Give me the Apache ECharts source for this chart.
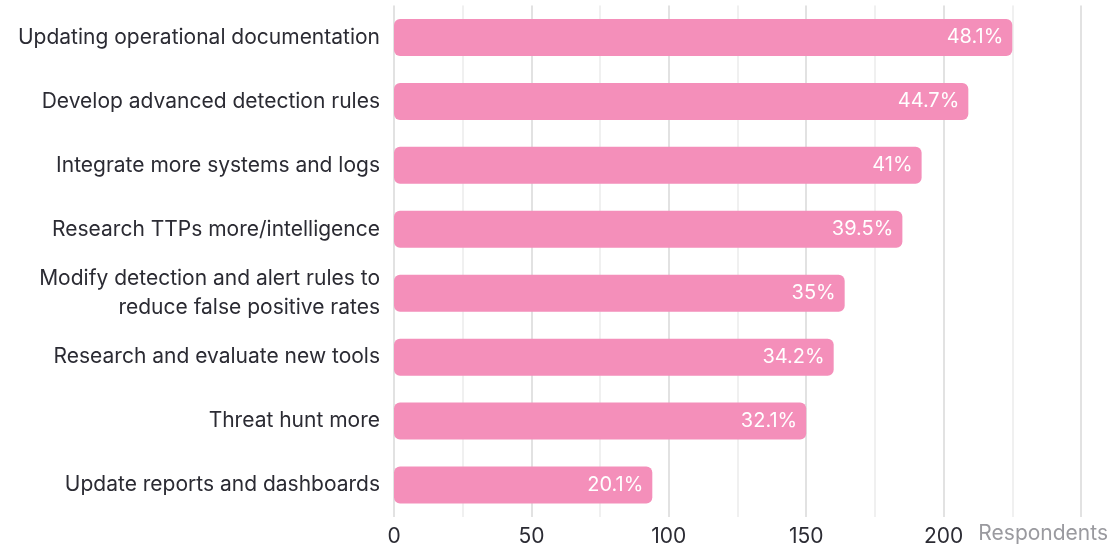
<!DOCTYPE html>
<html>
<head>
<meta charset="utf-8">
<script src="https://cdn.jsdelivr.net/npm/echarts@6/dist/echarts.min.js"></script>
<style>
  html, body { margin: 0; padding: 0; background: #ffffff; }
  #chart { width: 1112px; height: 547px; }
</style>
</head>
<body>
<div id="chart"></div>
<script>
// Activities, top to bottom
const categories = [
  'Updating operational documentation',
  'Develop advanced detection rules',
  'Integrate more systems and logs',
  'Research TTPs more/intelligence',
  'Modify detection and alert rules to\nreduce false positive rates',
  'Research and evaluate new tools',
  'Threat hunt more',
  'Update reports and dashboards'
];
// Number of respondents per activity
const respondents = [225, 209, 192, 185, 164, 160, 150, 94];
// Share of respondents shown on each bar
const shareLabels = ['48.1%', '44.7%', '41%', '39.5%', '35%', '34.2%', '32.1%', '20.1%'];
// Axis ticks
const tickValues = [0, 50, 100, 150, 200];

const FONT = 'Inter, "Noto Sans", sans-serif';
const chart = echarts.init(document.getElementById('chart'));

chart.setOption({
  animation: false,
  grid: { left: 394, right: 31, top: 5.5, height: 512, containLabel: false },
  xAxis: {
    type: 'value',
    min: 0,
    max: 250,
    interval: 50,
    name: 'Respondents',
    nameLocation: 'end',
    nameGap: 27,
    nameTextStyle: {
      color: '#9a9a9f', fontSize: 21, fontFamily: FONT,
      align: 'right', verticalAlign: 'top', padding: [6, 0, 0, 0]
    },
    axisLine: { show: false },
    axisTick: { show: false },
    axisLabel: {
      color: '#2b2b33', fontSize: 21, fontFamily: FONT, margin: 9,
      formatter: v => (tickValues.indexOf(v) >= 0 ? String(v) : '')
    },
    splitLine: { show: true, lineStyle: { color: '#e2e2e2', width: 2 } },
    minorTick: { show: false, splitNumber: 2 },
    minorSplitLine: { show: true, lineStyle: { color: '#f0f0f0', width: 2 } }
  },
  yAxis: {
    type: 'category',
    inverse: true,
    data: categories,
    axisLine: { show: false },
    axisTick: { show: false },
    axisLabel: {
      color: '#2b2b33', fontSize: 21, fontFamily: FONT, margin: 14,
      lineHeight: 29, align: 'right'
    },
    splitLine: { show: false }
  },
  series: [{
    type: 'bar',
    data: respondents,
    barWidth: 37,
    itemStyle: { color: '#f48fba', borderRadius: 6 },
    label: {
      show: true,
      position: 'insideRight',
      distance: 9,
      color: '#ffffff',
      fontSize: 20,
      fontFamily: FONT,
      formatter: p => shareLabels[p.dataIndex]
    }
  }]
});
</script>
</body>
</html>
